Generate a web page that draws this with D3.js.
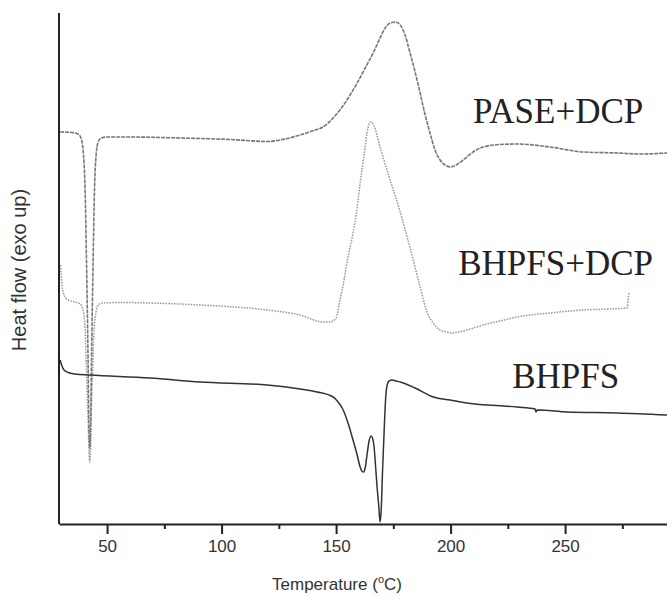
<!DOCTYPE html>
<html>
<head>
<meta charset="utf-8">
<script src="https://cdn.jsdelivr.net/npm/d3@7"></script>
<style>
  html, body { margin: 0; padding: 0; background: #fff; }
  svg { display: block; }
</style>
</head>
<body>
<svg id="chart" width="667" height="601"></svg>
<script>
// ---- Data (temperature in °C, heat flow in arbitrary units, exo up) ----
const paseDcpT = [29.5, 34.7, 37.3, 38.6, 39.5, 40.4, 41.0, 41.7, 42.1, 42.45, 42.8, 43.2, 43.9, 44.5, 45.2, 46.1, 47.4, 50.4, 60.0, 81.9, 103.7, 119.9, 127.7, 134.3, 140.8, 144.3, 148.7, 151.7, 156.1, 159.2, 162.7, 166.2, 169.2, 171.4, 173.6, 175.8, 178.0, 180.1, 182.3, 184.5, 186.7, 188.9, 191.0, 193.2, 195.4, 197.6, 199.8, 202.4, 205.5, 209.8, 214.2, 221.6, 229.0, 243.4, 257.9, 272.7, 282.8, 294.5];
const paseDcpV = [392, 391.5, 390, 386, 374, 334, 264, 164, 94, 76, 94, 164, 264, 334, 369, 382, 386, 387, 387, 386, 384.5, 382.5, 385, 389, 394, 397, 406, 414, 429, 441, 456, 471, 486, 496, 501, 502, 499, 489, 471, 452, 431, 409, 391, 374, 364, 359, 357, 359, 364, 372, 377, 379.5, 380, 377, 372, 371, 370, 371];

const bhpfsDcpT = [29.7, 30.3, 31.2, 33.0, 36.0, 38.2, 39.5, 40.4, 41.0, 41.7, 42.1, 42.4, 42.7, 43.0, 43.7, 44.3, 45.2, 46.1, 47.8, 55.7, 68.8, 90.6, 119.9, 134.3, 144.3, 147.4, 150.0, 151.7, 153.1, 154.8, 157.4, 159.2, 160.5, 162.2, 163.5, 164.4, 165.3, 166.6, 169.2, 173.6, 178.0, 182.3, 186.7, 189.7, 192.4, 195.4, 198.5, 199.8, 207.2, 214.2, 221.6, 229.0, 243.4, 257.9, 269.7, 277.1, 277.5, 278.0];
const bhpfsDcpV = [259, 239, 229, 224, 222, 220, 214, 194, 154, 104, 72, 62, 72, 104, 154, 194, 212, 219, 221, 221.5, 221, 219, 214, 209, 202, 202, 206, 224, 239, 262, 291, 316, 341, 369, 391, 400, 402, 398, 377, 344, 312, 276, 237, 212, 201, 194, 192, 191, 194, 199, 203, 207, 211, 214, 215, 216, 224, 232];

const bhpfsT = [29.5, 30.3, 31.2, 33.0, 36.0, 42.6, 68.8, 90.6, 119.9, 134.3, 141.7, 148.7, 150.9, 153.1, 155.2, 157.4, 159.2, 160.5, 161.4, 162.0, 162.7, 163.5, 164.4, 165.3, 165.9, 166.6, 167.2, 167.9, 168.6, 169.2, 169.7, 170.3, 171.0, 171.6, 172.3, 173.1, 174.5, 176.2, 178.0, 184.5, 192.4, 199.8, 207.2, 229.0, 236.9, 237.3, 237.8, 250.9, 272.7, 294.5];
const bhpfsV = [164, 158, 154, 151.5, 150, 149, 146, 142, 139, 135, 132, 127, 122, 114, 101, 84, 69, 57, 52.5, 52, 56, 69, 83, 88, 86, 77, 59, 37, 19, 2, 14, 54, 94, 124, 139, 143, 144, 143, 142, 136, 127, 124, 121, 117, 115, 112, 114, 112, 111, 109];

const seriesNames = ["PASE+DCP", "BHPFS+DCP", "BHPFS"];
const majorTicks = [50, 100, 150, 200, 250];
const minorTicks = [75, 125, 175, 225, 275];
const xTitle = "Temperature (";
const yTitle = "Heat flow (exo up)";

// ---- Layout ----
const svg = d3.select("#chart");
const x = d3.scaleLinear().domain([29, 294.5]).range([59, 667]);
const y = d3.scaleLinear().domain([0, 511]).range([524, 13]);

const toPts = (T, V) => T.map((t, i) => [t, V[i]]);
const line = d3.line().x(d => x(d[0])).y(d => y(d[1])).curve(d3.curveMonotoneX);

// Curves
svg.append("path").datum(toPts(bhpfsDcpT, bhpfsDcpV))
  .attr("d", line).attr("fill", "none")
  .attr("stroke", "#9a9a9a").attr("stroke-width", 1.5)
  .attr("stroke-dasharray", "1.6,1.2");

svg.append("path").datum(toPts(paseDcpT, paseDcpV))
  .attr("d", line).attr("fill", "none")
  .attr("stroke", "#777").attr("stroke-width", 1.6)
  .attr("stroke-dasharray", "4,1");

svg.append("path").datum(toPts(bhpfsT, bhpfsV))
  .attr("d", line).attr("fill", "none")
  .attr("stroke", "#333").attr("stroke-width", 1.5);

// Axes
const axisColor = "#222";
svg.append("line").attr("x1", x(29)).attr("x2", x(29)).attr("y1", y(511)).attr("y2", y(0))
  .attr("stroke", axisColor).attr("stroke-width", 2);

const xAxis = d3.axisBottom(x).tickValues(majorTicks).tickSize(10).tickSizeOuter(0).tickFormat(d3.format("d"));
const gx = svg.append("g").attr("transform", `translate(0,${y(0)})`).call(xAxis);
gx.select(".domain").attr("stroke", axisColor).attr("stroke-width", 2);
gx.selectAll(".tick line").attr("stroke", axisColor).attr("stroke-width", 2);
gx.selectAll(".tick text").attr("fill", "#333").attr("font-family", "Liberation Sans, Arial, sans-serif")
  .attr("font-size", 17).attr("dy", "0.9em");

const xMinor = d3.axisBottom(x).tickValues(minorTicks).tickSize(5).tickSizeOuter(0).tickFormat("");
const gm = svg.append("g").attr("transform", `translate(0,${y(0)})`).call(xMinor);
gm.select(".domain").remove();
gm.selectAll(".tick line").attr("stroke", axisColor).attr("stroke-width", 2);

// Axis titles
const xt = svg.append("text").attr("x", 337).attr("y", 590).attr("text-anchor", "middle")
  .attr("font-family", "Liberation Sans, Arial, sans-serif").attr("font-size", 17).attr("fill", "#333");
xt.append("tspan").text(xTitle);
xt.append("tspan").attr("font-size", 11).attr("dy", -7).text("o");
xt.append("tspan").attr("dy", 7).text("C)");

svg.append("text").attr("transform", "translate(26,270) rotate(-90)").attr("text-anchor", "middle")
  .attr("font-family", "Liberation Sans, Arial, sans-serif").attr("font-size", 20).attr("fill", "#333")
  .text(yTitle);

// Series labels
const labelPos = [[209.8, 401], [203.3, 249], [226.9, 136]];
seriesNames.forEach((name, i) => {
  svg.append("text").attr("x", x(labelPos[i][0])).attr("y", y(labelPos[i][1]))
    .attr("font-family", "Liberation Serif, Times New Roman, serif").attr("font-size", 35)
    .attr("fill", "#222").text(name);
});
</script>
</body>
</html>
